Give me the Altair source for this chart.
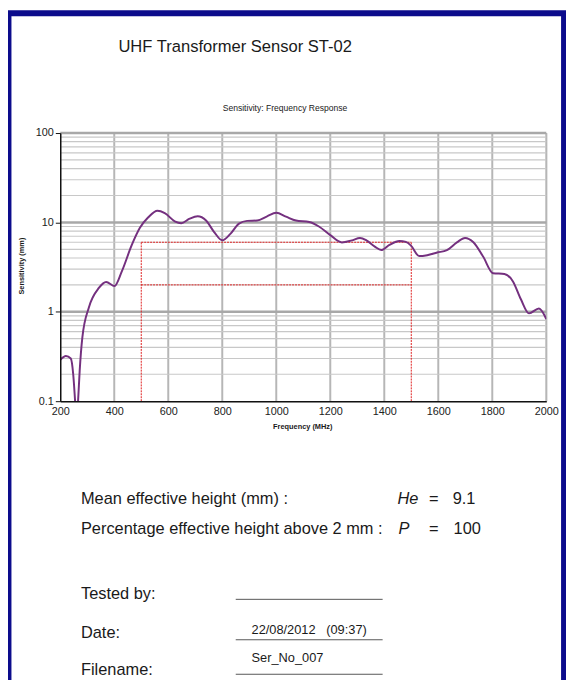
import altair as alt
import pandas as pd

# ---------------- data ----------------
freq = [200, 221, 239, 248, 255, 260, 266, 272, 282, 306, 343, 370, 401, 428,
        465, 495, 526, 560, 587, 624, 648, 679, 709, 740, 770, 800, 831, 862,
        892, 929, 966, 1000, 1036, 1073, 1122, 1158, 1200, 1243, 1280, 1310,
        1334, 1365, 1389, 1419, 1456, 1480, 1499, 1529, 1559, 1596, 1632, 1669,
        1699, 1730, 1766, 1803, 1845, 1876, 1906, 1936, 1973, 2000]
sens = [0.29, 0.32, 0.30, 0.2, 0.1, 0.055, 0.1, 0.22, 0.52, 1.12, 1.85, 2.16,
        1.94, 2.83, 5.6, 8.7, 11.4, 13.5, 12.7, 10.3, 9.8, 11.0, 11.7, 10.5,
        7.8, 6.3, 7.5, 9.7, 10.4, 10.5, 11.7, 12.8, 11.6, 10.5, 10.1, 9.0, 7.2,
        5.97, 6.3, 6.7, 6.3, 5.35, 4.9, 5.6, 6.2, 6.05, 5.5, 4.2, 4.3, 4.6, 4.9,
        5.97, 6.7, 6.0, 4.15, 2.7, 2.65, 2.2, 1.38, 0.96, 1.09, 0.83]

x_ticks = [200, 400, 600, 800, 1000, 1200, 1400, 1600, 1800, 2000]
x_grid = [400, 600, 800, 1000, 1200, 1400, 1600, 1800, 2000]
y_ticks = [0.1, 1, 10, 100]
y_major = [1, 10, 100]
y_minor = [0.2, 0.3, 0.4, 0.5, 0.6, 0.7, 0.8, 0.9,
           2, 3, 4, 5, 6, 7, 8, 9,
           20, 30, 40, 50, 60, 70, 80, 90]

band_f = [500, 1500]
band_upper = 6
band_lower = 2

title = "UHF Transformer Sensor ST-02"
subtitle = "Sensitivity: Frequency Response"
x_title = "Frequency (MHz)"
y_title = "Sensitivity (mm)"
he_value = "9.1"
p_value = "100"
date_text = "22/08/2012\u00a0\u00a0\u00a0(09:37)"
file_text = "Ser_No_007"

FONT = "Liberation Sans"
W, H = 493, 272

xs = alt.Scale(type="linear", domain=[200, 2000], nice=False, zero=False)
ys = alt.Scale(type="log", domain=[0.1, 100], nice=False)

AX = alt.Axis(values=x_ticks, format="d", title=None, grid=False, labelFont=FONT,
              labelFontSize=11, labelColor="#222", domainColor="#111",
              domainWidth=1.5, ticks=False, tickSize=0,
              labelPadding=5, labelFlush=False, zindex=1)
AY = alt.Axis(values=y_ticks, format="~g", title=None, grid=False,
              labelFont=FONT, labelFontSize=11, labelColor="#222",
              domainColor="#111", domainWidth=1.5, tickColor="#111",
              tickSize=5, labelPadding=2, labelFlush=False, zindex=1)

curve_df = pd.DataFrame({"f": freq, "s": sens})

# grid
vgrid = alt.Chart(pd.DataFrame({"f": x_grid})).mark_rule(
    color="#b6b6b6", strokeWidth=2).encode(
    x=alt.X("f:Q", scale=xs, axis=AX))
hminor = alt.Chart(pd.DataFrame({"s": y_minor})).mark_rule(
    color="#c8c8c8", strokeWidth=1.2).encode(
    y=alt.Y("s:Q", scale=ys, axis=AY))
hmajor = alt.Chart(pd.DataFrame({"s": y_major})).mark_rule(
    color="#a8a8a8", strokeWidth=2.5).encode(
    y=alt.Y("s:Q", scale=ys, axis=AY))

# red band lines
red_v = alt.Chart(pd.DataFrame({"f": band_f, "lo": [0.1, 0.1], "hi": [band_upper, band_upper]})).mark_rule(
    color="#e02020", strokeWidth=1, strokeDash=[2, 1]).encode(
    x=alt.X("f:Q", scale=xs, axis=AX),
    y=alt.Y("lo:Q", scale=ys, axis=AY), y2="hi:Q")
red_h = alt.Chart(pd.DataFrame({"a": [band_f[0]] * 2, "b": [band_f[1]] * 2,
                                "s": [band_upper, band_lower]})).mark_rule(
    color="#e02020", strokeWidth=1, strokeDash=[2, 1]).encode(
    x=alt.X("a:Q", scale=xs, axis=AX), x2="b:Q",
    y=alt.Y("s:Q", scale=ys, axis=AY))

curve = alt.Chart(curve_df).mark_line(
    color="#74307f", strokeWidth=2, interpolate="monotone", clip=True).encode(
    x=alt.X("f:Q", scale=xs, axis=AX),
    y=alt.Y("s:Q", scale=ys, axis=AY))

one = pd.DataFrame({"t": [""]})


def txt(s, x, y, size, align="left", weight="normal", style="normal", angle=0, color="#1a1a1a"):
    return alt.Chart(pd.DataFrame({"t": [s]})).mark_text(
        font=FONT, fontSize=size, align=align, baseline="middle",
        fontWeight=weight, fontStyle=style, angle=angle, color=color).encode(
        x=alt.value(x), y=alt.value(y), text="t:N")


def px(v):
    return v - 61


def py(v):
    return v - 130


border = alt.Chart(one).mark_rect(fillOpacity=0, stroke="#0c0c8c", strokeWidth=6).encode(
    x=alt.value(px(8.5)), x2=alt.value(px(572)), y=alt.value(py(8.5)), y2=alt.value(py(720)))


def uline(y):
    return alt.Chart(one).mark_rule(color="#555", strokeWidth=1).encode(
        x=alt.value(px(239)), x2=alt.value(px(388)), y=alt.value(py(y)))


BIG = 16.6
texts = [
    txt(title, px(120), py(43), 16.8),
    txt(subtitle, px(289), py(105), 8.7, align="center"),
    txt(x_title, px(307), py(428), 7.5, align="center", weight="bold"),
    txt(y_title, px(22), py(265), 7.5, align="center", weight="bold", angle=270),
    txt("Mean effective height (mm) :", px(82), py(501), BIG),
    txt("He", px(403), py(501), BIG, style="italic"),
    txt("=", px(435), py(501), BIG),
    txt(he_value, px(459), py(501), BIG),
    txt("Percentage effective height above 2 mm :", px(82), py(532), BIG),
    txt("P", px(404), py(532), BIG, style="italic"),
    txt("=", px(435), py(532), BIG),
    txt(p_value, px(460), py(532), BIG),
    txt("Tested by:", px(82), py(598), BIG),
    txt("Date:", px(82), py(637), BIG),
    txt(date_text, px(255), py(634), 13),
    txt("Filename:", px(82), py(675), BIG),
    txt(file_text, px(255), py(663), 13),
    uline(603), uline(644), uline(679),
]

chart = alt.layer(
    vgrid, hminor, hmajor, red_v, red_h, curve, border, *texts
).properties(
    width=W, height=H,
    padding={"left": 53, "top": 122, "right": 20, "bottom": 278},
    autosize=alt.AutoSizeParams(type="none"),
).configure_view(stroke=None).configure(background="white")

chart.save("out.html", embed_options={"renderer": "svg", "actions": False})
